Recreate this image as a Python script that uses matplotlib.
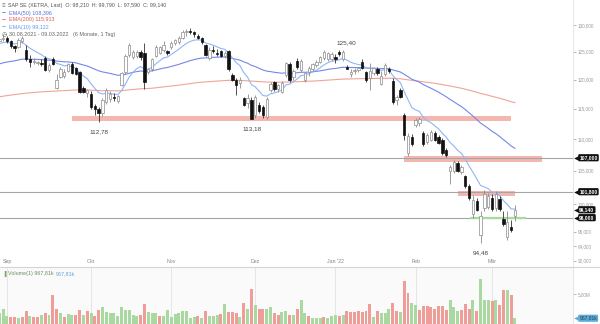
import numpy as np
import pandas as pd
import matplotlib
matplotlib.use("Agg")
import matplotlib.pyplot as plt
from matplotlib.lines import Line2D

plt.rcParams['font.family'] = ['Liberation Sans', 'DejaVu Sans']

# daily OHLC, SAP SE (XETRA), 30.08.2021 - 09.03.2022
opens = [127.0, 127.4, 127.6, 126.9, 126.0, 125.8, 127.0, 125.4, 123.6, 123.2,
         123.0, 123.0, 123.9, 121.7, 123.7, 118.6, 120.5, 120.6, 121.6, 122.8,
         122.0, 121.3, 118.5, 117.6, 117.5, 115.5, 115.0, 114.2, 116.2, 116.7,
         117.0, 116.3, 119.1, 121.4, 124.4, 124.1, 124.2, 125.0, 124.8, 121.4,
         121.9, 124.3, 124.8, 125.3, 125.2, 125.8, 126.6, 126.8, 127.6, 128.6,
         128.8, 128.6, 128.0, 127.5, 126.2, 123.8, 125.4, 124.8, 125.1, 124.3,
         125.1, 120.8, 119.9, 119.4, 116.8, 116.0, 116.5, 114.0, 115.6, 115.3,
         113.6, 118.2, 119.5, 118.4, 117.9, 120.8, 122.8, 120.4, 123.4, 121.7,
         119.9, 121.3, 121.9, 122.5, 123.1, 123.8, 123.6, 123.7, 124.0, 125.0,
         123.6, 122.2, 121.0, 121.5, 121.7, 123.2, 121.3, 120.3, 121.1, 121.9,
         119.3, 121.0, 121.9, 119.8, 116.4, 118.2, 113.9, 107.8, 110.3, 112.2,
         112.6, 111.0, 109.5, 109.9, 110.9, 110.3, 109.8, 108.3, 105.0, 105.0,
         106.2, 104.8, 104.1, 102.6, 98.5, 100.4, 95.6, 99.4, 99.6, 100.9,
         99.4, 100.7, 97.8, 95.2, 96.6, 98.21]
highs = [127.8, 128.2, 128.0, 127.2, 126.3, 127.6, 128.0, 126.2, 124.4, 123.8,
         123.4, 123.6, 124.2, 122.9, 124.0, 121.0, 122.3, 121.8, 123.0, 123.1,
         122.3, 121.5, 118.9, 118.4, 118.0, 115.8, 115.3, 116.8, 118.5, 118.0,
         117.6, 117.3, 121.4, 124.6, 126.6, 125.3, 125.3, 125.3, 126.6, 122.0,
         123.9, 126.3, 126.0, 126.9, 125.4, 127.0, 127.4, 127.9, 129.0, 129.3,
         129.5, 128.9, 128.3, 127.8, 126.5, 125.8, 126.0, 125.5, 125.4, 125.2,
         125.4, 121.2, 120.2, 120.4, 117.0, 117.4, 117.0, 117.3, 116.1, 115.6,
         116.9, 119.6, 119.8, 119.3, 119.8, 123.2, 123.2, 121.9, 123.9, 123.7,
         121.4, 122.4, 122.9, 123.5, 124.3, 125.3, 125.0, 125.0, 124.6, 125.3,
         125.40, 122.5, 121.9, 122.0, 122.3, 123.6, 121.6, 122.9, 122.3, 122.2,
         121.6, 123.0, 122.2, 120.3, 117.3, 118.6, 114.3, 111.0, 110.8, 113.4,
         113.6, 111.3, 110.9, 111.5, 111.3, 110.6, 110.1, 108.6, 105.8, 106.6,
         106.5, 105.8, 104.4, 102.9, 101.3, 100.9, 99.0, 102.0, 101.6, 101.4,
         101.9, 101.2, 99.0, 99.0, 97.6, 99.79]
lows = [126.6, 127.0, 126.6, 125.6, 124.9, 125.6, 126.6, 123.3, 122.2, 122.8,
        122.6, 122.4, 121.6, 121.4, 122.5, 118.3, 120.2, 120.2, 121.4, 120.9,
        120.8, 117.6, 117.6, 117.0, 115.0, 113.9, 112.78, 113.8, 115.8, 116.2,
        116.3, 115.9, 118.8, 121.0, 124.0, 123.6, 123.8, 123.5, 118.4, 121.0,
        121.5, 124.0, 124.5, 125.0, 124.4, 125.5, 126.2, 126.4, 127.3, 128.0,
        128.2, 127.8, 127.3, 126.4, 124.2, 123.5, 124.8, 124.2, 124.1, 123.8,
        121.6, 119.7, 117.3, 118.6, 115.4, 115.1, 113.18, 113.5, 114.3, 113.5,
        113.3, 117.8, 118.0, 117.9, 117.6, 120.5, 119.6, 120.0, 121.9, 121.4,
        119.6, 120.7, 121.5, 122.2, 122.9, 123.5, 123.3, 123.4, 123.0, 124.3,
        123.3, 121.8, 120.4, 120.9, 121.4, 121.8, 119.6, 118.2, 120.8, 120.8,
        119.0, 120.6, 121.2, 115.8, 115.6, 116.8, 109.8, 107.3, 108.8, 111.9,
        112.1, 108.8, 109.2, 109.6, 109.6, 109.1, 107.4, 107.1, 103.0, 104.7,
        104.8, 104.5, 102.3, 100.6, 98.0, 98.9, 94.48, 99.0, 99.2, 99.0,
        99.0, 99.0, 96.8, 94.9, 95.9, 97.59]
closes = [127.4, 127.6, 126.9, 126.0, 125.7, 127.2, 127.5, 123.7, 123.2, 123.4,
          123.0, 122.8, 121.7, 122.6, 122.7, 119.9, 121.9, 121.3, 122.8, 121.1,
          121.0, 117.8, 117.8, 118.1, 115.2, 114.9, 114.3, 116.5, 118.2, 117.5,
          116.8, 117.1, 121.1, 124.2, 126.2, 125.0, 125.0, 124.0, 119.6, 121.8,
          123.6, 125.8, 125.8, 126.2, 124.7, 126.6, 127.2, 127.6, 128.6, 128.8,
          128.6, 128.2, 127.5, 126.8, 124.4, 125.4, 125.2, 124.5, 124.3, 124.8,
          121.8, 119.9, 119.1, 120.0, 115.6, 116.8, 113.2, 117.0, 114.6, 113.9,
          116.6, 119.3, 118.3, 119.0, 119.4, 122.9, 120.0, 121.6, 122.2, 123.4,
          121.2, 122.0, 122.7, 123.2, 124.0, 125.0, 124.7, 124.6, 123.6, 124.5,
          125.0, 121.9, 121.4, 121.7, 122.0, 122.1, 119.9, 121.6, 122.0, 121.1,
          120.6, 122.6, 121.5, 116.1, 116.9, 117.0, 110.7, 110.4, 109.1, 113.1,
          113.2, 109.1, 110.6, 111.1, 109.9, 109.3, 107.7, 107.4, 105.6, 106.3,
          105.0, 105.6, 102.6, 100.9, 100.5, 99.1, 98.3, 101.5, 101.1, 99.3,
          101.4, 99.3, 97.1, 97.4, 96.3, 99.14]

# volume in millions and whether the bar is shown as an up day
volume_m = [1.9, 2.6, 1.4, 1.2, 1.2, 1.0, 1.2, 2.2, 1.4, 1.1,
            1.2, 1.5, 1.9, 1.5, 4.9, 2.5, 1.9, 1.1, 1.6, 1.5,
            1.5, 2.4, 1.5, 2.2, 1.8, 1.4, 2.4, 2.8, 2.1, 1.8,
            1.9, 1.4, 2.8, 2.4, 2.4, 1.5, 1.4, 1.5, 3.4, 2.1,
            1.9, 1.8, 1.4, 1.4, 2.3, 1.2, 1.6, 1.8, 2.2, 2.2,
            1.0, 1.2, 1.4, 1.0, 2.2, 1.4, 1.4, 1.5, 1.7, 3.4,
            2.1, 2.1, 1.8, 1.1, 3.6, 2.6, 5.8, 3.2, 2.5, 2.5,
            2.5, 2.9, 1.8, 1.5, 2.1, 2.2, 1.5, 1.5, 2.5,
            4.0, 1.8, 1.4, 1.0, 1.0, 1.0, 1.1, 1.0, 1.4, 1.5,
            1.4, 1.5, 2.2, 2.0, 2.1, 2.2, 2.0, 2.2, 3.4, 1.2,
            2.2, 1.8, 1.8, 2.5, 3.6, 2.2, 2.0, 7.2, 5.2, 3.6,
            3.2, 2.4, 3.0, 3.0, 2.8, 2.5, 3.0, 3.0, 2.4, 4.1,
            2.8, 2.2, 2.4, 3.4, 2.6, 4.1, 2.2, 7.5, 4.1, 4.0,
            3.8, 4.1, 3.2, 5.7, 5.7, 4.8, 0.96781]
volume_up = [1, 1, 1, 0, 0, 1, 0, 0, 1, 0,
             0, 1, 0, 1, 0, 0, 1, 0, 1, 1,
             0, 0, 1, 0, 1, 0, 0, 1, 1, 1,
             1, 1, 1, 1, 1, 1, 1, 0, 0, 1,
             1, 1, 0, 1, 1, 1, 1, 1, 1, 1,
             1, 1, 0, 1, 0, 1, 1, 1, 0, 1,
             0, 0, 0, 1, 0, 1, 0, 1, 0, 0,
             1, 1, 0, 0, 1, 1, 0, 1, 0,
             1, 1, 0, 1, 1, 1, 0, 1, 1, 1,
             0, 1, 0, 0, 0, 0, 0, 0, 0, 1,
             0, 1, 1, 1, 0, 0, 1, 0, 0, 1,
             1, 0, 0, 0, 0, 0, 0, 0, 0, 1,
             1, 1, 0, 0, 0, 1, 0, 1, 1, 1,
             0, 1, 0, 0, 1, 0, 1]

# XETRA trading days (closed 24.12. and 31.12.)
days = pd.bdate_range('2021-08-30', '2022-03-09')
days = days[~days.isin(pd.to_datetime(['2021-12-24', '2021-12-31']))]
month_starts = ['2021-09-01', '2021-10-01', '2021-11-01', '2021-12-01',
                '2022-01-03', '2022-02-01', '2022-03-01']
month_labels = ['Sep', 'Okt', 'Nov', 'Dez', "Jan '22", 'Feb', 'Mär']

# marked swing lows / highs
low_days = ['2021-10-05', '2021-11-30', '2022-02-24']
high_days = ['2022-01-05']

price_ticks = [92, 94, 96, 100, 105, 110, 115, 120, 125, 130]
level_lines = [107.0, 101.8, 98.0]
last_close = 99.14
last_volume = '967,81k'

# EMA start values on the first day of the window
ema10_start = 126.3
ema50_start = 122.6
ema200_start = 116.9


def ema(values, span, start):
    a = 2.0 / (span + 1)
    out = []
    e = start
    for v in values:
        e = e + a * (v - e)
        out.append(e)
    return np.array(out)


def de(v, nd=3):
    return f"{v:,.{nd}f}".replace(',', 'X').replace('.', ',').replace('X', '.')


o = np.array(opens)
h = np.array(highs)
l = np.array(lows)
c = np.array(closes)
x = np.arange(len(c))
up = c >= o

fig = plt.figure(figsize=(6, 3.24), dpi=100)
W, H = 600.0, 324.0
right = 573 / W
ax = fig.add_axes([0, 57 / H, right, 267 / H])
axv = fig.add_axes([0, 0, right, 57 / H])

# support / resistance zones
ax.fill_between([19.0, 134.0], 112.95, 113.8, color='#f4b7af', lw=0, zorder=1)
ax.fill_between([105.9, 142.1], 106.4, 107.2, color='#f4b7af', lw=0, zorder=1)
ax.fill_between([120.1, 135.0], 101.1, 101.85, color='#f4b7af', lw=0, zorder=1)
ax.plot([123.2, 137.9], [98.0, 98.0], color='#a8da9c', lw=1.6, zorder=1.6,
        solid_capstyle='butt')
for lv in level_lines:
    ax.axhline(lv, color='#a5a5a5', lw=0.8, zorder=1.5)

# moving averages
ax.plot(x, ema(c, 200, ema200_start), color='#f0a497', lw=0.8, zorder=2)
ax.plot(x, ema(c, 50, ema50_start), color='#7487ea', lw=0.8, zorder=2)
ax.plot(x, ema(c, 10, ema10_start), color='#8fb6f6', lw=0.8, zorder=2)

# candles
lo_b = np.minimum(o, c)
hi_b = np.maximum(o, c)
hgt = np.maximum(hi_b - lo_b, 0.12)
ax.vlines(x[up], l[up], h[up], color='#8c8c8c', lw=0.6, zorder=2.5)
ax.vlines(x[~up], l[~up], h[~up], color='#333333', lw=0.6, zorder=2.5)
ax.bar(x[up], hgt[up], bottom=lo_b[up], width=0.62, color='white',
       edgecolor='#8c8c8c', linewidth=0.5, zorder=3)
ax.bar(x[~up], hgt[~up], bottom=lo_b[~up], width=0.62, color='#111111',
       edgecolor='#111111', linewidth=0.5, zorder=3)

# high / low labels
for d in low_days:
    i = days.get_loc(pd.Timestamp(d))
    ax.annotate(de(l[i], 2), (x[i], l[i]), xytext=(0.3, -7), textcoords='offset points',
                ha='center', va='center', fontsize=4.6, color='#444444')
for d in high_days:
    i = days.get_loc(pd.Timestamp(d))
    ax.annotate(de(h[i], 2), (x[i], h[i]), xytext=(2.5, 4.8), textcoords='offset points',
                ha='center', va='center', fontsize=4.6, color='#444444')

ax.set_yscale('log')
ax.set_ylim(91.16, 134.85)
ax.set_xlim(0.17, 150.2)
ax.yaxis.tick_right()
ax.set_yticks(price_ticks)
ax.set_yticklabels([de(t) for t in price_ticks])
ax.yaxis.set_minor_locator(plt.NullLocator())
ax.tick_params(axis='y', labelsize=3.3, colors='#9a9a9a', length=2, width=0.5, pad=1.5)
ax.set_xticks([])
for s in ['top', 'left', 'bottom']:
    ax.spines[s].set_visible(False)
ax.spines['right'].set_color('#e2e2e2')
ax.spines['right'].set_linewidth(0.6)

# price tags on the right edge
for val in level_lines + [last_close]:
    ax.text(1.011, val, de(val), transform=ax.get_yaxis_transform(), ha='left',
            va='center', fontsize=3.6, fontweight='bold', color='white', zorder=6,
            clip_on=False,
            bbox=dict(boxstyle='round,pad=0.22,rounding_size=0.25', fc='#111111', ec='none'))
    ax.plot([1.006], [val], marker='<', ms=3.4, color='#111111', mec='none',
            transform=ax.get_yaxis_transform(), clip_on=False, zorder=6)

# volume panel
vup = np.array(volume_up) == 1
vol = np.array(volume_m)
axv.set_facecolor('#fafafa')
axv.bar(x[vup], vol[vup], width=0.78, color='#a9d8a0', lw=0, zorder=2)
axv.bar(x[~vup], vol[~vup], width=0.78, color='#ee9d98', lw=0, zorder=2)
axv.set_xlim(ax.get_xlim())
axv.set_ylim(0, 57 / 5.95)
mpos = [days.get_loc(pd.Timestamp(d)) for d in month_starts]
axv.xaxis.tick_top()
axv.set_xticks(mpos)
axv.set_xticklabels(month_labels)
axv.tick_params(axis='x', length=0, pad=2.2, labelsize=3.8, colors='#888888')
axv.grid(axis='x', color='#e3e3e3', lw=0.6, zorder=0)
axv.yaxis.tick_right()
axv.set_yticks([5.0])
axv.set_yticklabels(['5,00M'])
axv.tick_params(axis='y', labelsize=3.3, colors='#9a9a9a', length=2, width=0.5, pad=1.5)
for s in ['top', 'left', 'bottom']:
    axv.spines[s].set_visible(False)
axv.spines['right'].set_color('#e2e2e2')
axv.spines['right'].set_linewidth(0.6)
axv.text(1.011, volume_m[-1], last_volume, transform=axv.get_yaxis_transform(),
         ha='left', va='center', fontsize=3.6, color='#1d3d55', zorder=6, clip_on=False,
         bbox=dict(boxstyle='round,pad=0.22,rounding_size=0.25', fc='#62acd8', ec='none'))
axv.plot([1.006], [volume_m[-1]], marker='<', ms=3.4, color='#62acd8', mec='none',
         transform=axv.get_yaxis_transform(), clip_on=False, zorder=6)

fig.add_artist(Line2D([0, 1], [57 / H, 57 / H], transform=fig.transFigure,
                      color='#d4d4d4', lw=0.8))


def ftext(px, py, s, **kw):
    fig.text(px / W, 1 - py / H, s, va='center', ha='left', **kw)


# header and legend
ftext(1.5, 5.5, '\u2261', fontsize=4.5, color='#777777')
ftext(8, 5.5, 'SAP SE (XETRA, Last)  O: 98,210  H: 99,790  L: 97,590  C: 99,140',
      fontsize=3.75, color='#555555')
ftext(1.5, 13, '\u2013', fontsize=5, color='#4b6bdc', fontweight='bold')
ftext(9, 13, 'EMA(50) 108,396', fontsize=3.9, color='#5a72e0')
ftext(1.5, 20, '\u2013', fontsize=5, color='#e0574c', fontweight='bold')
ftext(9, 20, 'EMA(200) 115,913', fontsize=3.9, color='#e35b50')
ftext(1.5, 27, '\u2013', fontsize=5, color='#5d9cf0', fontweight='bold')
ftext(9, 27, 'EMA(10) 99,122', fontsize=3.9, color='#5d9cf0')
ftext(1.5, 34.5, '\u25f7', fontsize=4.3, color='#666666')
ftext(9, 34.5, '30.08.2021 - 09.03.2022   (6 Monate, 1 Tag)', fontsize=3.9, color='#666666')

ftext(2, 274, '\u2590', fontsize=3.5, color='#6fa860')
ftext(8, 274, 'Volume(1) 967,81k', fontsize=3.9, color='#6d8f60')
ftext(56, 274, '967,81k', fontsize=3.9, color='#5aa3d4')

fig.savefig('out.png', dpi=100)
